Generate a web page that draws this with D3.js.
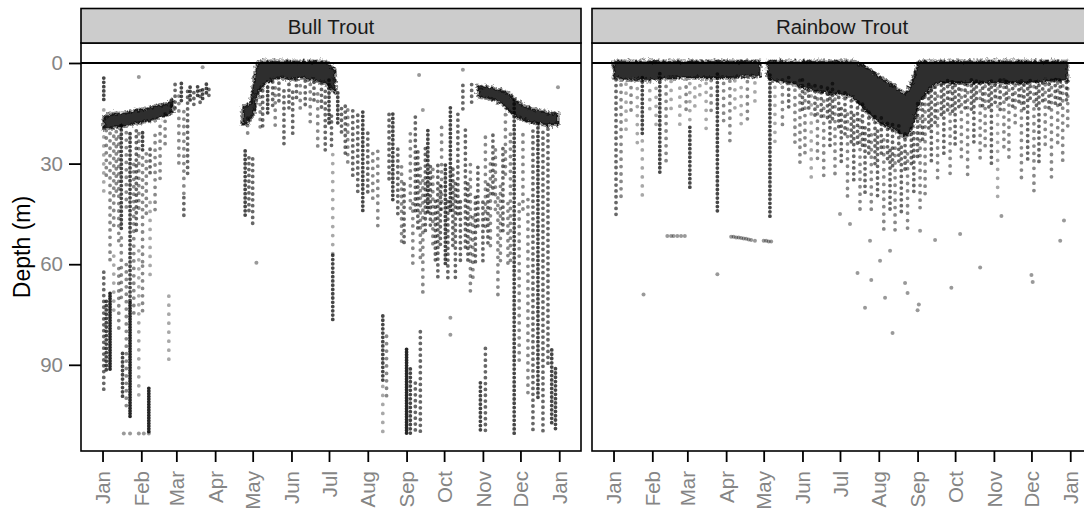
<!DOCTYPE html>
<html><head><meta charset="utf-8">
<script src="https://cdn.jsdelivr.net/npm/d3@7"></script>
<style>
body{margin:0;background:#fff}
svg{display:block}
text{font-family:"Liberation Sans",Arial,Helvetica,sans-serif}
</style>
</head><body>
<svg id="chart" width="1084" height="508"></svg>
<script>
// ---------------- DATA ----------------
const species = ["Bull Trout", "Rainbow Trout"];
const monthLabels = ["Jan","Feb","Mar","Apr","May","Jun","Jul","Aug","Sep","Oct","Nov","Dec","Jan"];
const depthTicks = [0, 30, 60, 90];

// dense detection bands: [dayOfYear, topDepth, bottomDepth] (null = no detections)
const bullBand = [
  [1,16,19.5],[5,15.5,19.5],[10,15,19.2],[16,15,19],[22,14.5,18.5],[28,14,18],[34,13.6,17.6],
  [40,13,17],[46,12.5,16.4],[52,12,15.5],[56,11,14.5],[60,null,null],
  [112,13,18.5],[118,12,17],[121,5,15],[124,0,9.5],[128,-0.5,7],[134,-0.5,5.5],[142,-0.5,4.5],
  [150,-0.5,5],[158,-0.5,4.5],[166,-0.5,5],[172,-0.5,5.5],[178,-0.3,6],[183,1,8],[186,2,9],[188,null,null],
  [300,7,10],[306,7,10.5],[312,7.5,11],[318,8,12],[324,9,14],[330,11,16],
  [336,12.5,17],[342,13.5,17.6],[348,14,18],[354,14.5,18.5],[360,15,18.5],[364,15,18.5]
];
// vertical runs of detections: [dayOfYear, topDepth, bottomDepth, density 1-5]
const bullRuns = [
  [1,4.5,12,4],[1,12,40,1],[1,62,99,3],[3,20,35,2],[3,70,92,4],[6,20,60,2],[6,68,92,5],
  [9,20,50,2],[9,55,75,1],[11,20,40,2],[13,20,55,2],[13,60,80,2],[15,18,50,4],[15,50,70,2],[16,86,100,4],
  [19,20,45,2],[19,60,103,2],[22,20,71,4],[22,71,106,5],[25,30,75,2],[27,20,50,3],[29,20,45,2],[29,55,100,1],
  [32,20,27,4],[32,27,60,2],[32,60,75,2],[35,25,45,2],[37,97,110.5,5],[38,24,33,3],[38,40,65,1],
  [42,20,45,2],[46,18,35,2],[50,15,25,2],[53,68,90,1],[55,10,15,3],[58,6,14,3],[61,8,30,2],[63,6,12,4],
  [65,14,39,2],[65,39,46,3],[68,8,34,3],[70,6,12,4],[73,8,14,3],[76,6,10,4],[78,7,12,3],[80,7,11,4],[83,6,10,4],[85,7,11,3],
  [114,26,46,4],[117,27,44,3],[120,28,48,3],[116,16,22,2],
  [126,6,20,2],[128,8,20,3],[132,6,16,4],[136,5,14,3],[138,6,20,2],[141,5,12,3],[145,8,25,3],[149,5,15,3],
  [152,8,22,3],[155,5,12,3],[158,5,15,2],[162,5,14,3],[166,6,18,2],[169,5,12,3],
  [172,8,25,2],[175,5,14,3],[178,8,27,3],[181,4,18,4],[183,15,25,3],[184,25,57,1],[184,57,77,4],
  [188,8,18,4],[191,12,22,3],[194,12,28,3],[196,13,30,2],[200,13,35,3],[204,15,40,3],[208,14,45,4],[212,20,40,3],[216,25,42,2],
  [220,25,50,2],[224,75,95,4],[224,95,110.5,1],[227,80,100,2],[229,15,35,3],[232,15,41,4],[236,25,45,3],[239,30,55,2],
  [241,35,55,3],[243,85,110.5,5],[246,20,45,2],[246,90,110.5,4],[248,40,60,2],[250,15,45,3],[250,95,110.5,3],
  [252,25,50,3],[254,30,60,2],[254,80,110.5,3],[256,35,70,2],[258,25,50,3],[260,20,45,4],[262,30,50,3],
  [264,30,55,2],[266,40,60,3],[268,30,65,3],[270,35,55,3],[271,18,45,2],[274,30,60,4],[276,40,65,3],
  [278,13,45,4],[280,30,55,3],[282,35,65,3],[284,15,45,3],[286,40,60,3],[288,6,14,3],[290,20,55,3],
  [292,35,60,3],[294,30,70,2],[295,5,12,3],[296,45,65,2],[298,40,60,3],[300,30,50,3],[302,95,110.5,4],
  [304,40,60,3],[306,20,50,2],[306,85,110.5,3],[308,35,55,3],[310,30,55,2],[312,20,40,3],[314,25,45,2],
  [316,40,70,2],[318,35,60,2],[320,25,50,3],[322,15,35,2],[324,40,60,2],[326,20,60,2],
  [329,10,110.5,4],[333,40,90,2],[336,20,45,2],[340,40,100,2],[344,20,110.5,3],[348,18,100,4],
  [352,20,110.5,3],[356,18,90,3],[359,85,108,4],[362,90,110,4]
];
// isolated detections: [dayOfYear, depth]
const bullPoints = [
  [123,59.6],[278,76],[278,81],[29,4.2],[80,1.3],[253,3.6],[364,7.2],[256,14],[288,2],
  [17,110.5],[22,110.5],[29,110.5],[33,110.5],[37,110.5]
];

const rainbowBand = [
  [0,-0.5,4.5],[15,-0.5,5],[29,-0.5,5],[50,-0.5,4.5],[69,-0.5,4.5],[90,-0.5,4.5],[105,-0.5,4],[117,-0.5,4],
  [119,null,null],
  [123,-0.5,4],[125,-0.5,5],[141,-0.5,6],[157,-0.5,8],[173,-0.5,9],[189,-0.5,10],[201,1,14],
  [213,4,18],[225,7,20],[233,9,22],[238,6,20],[245,-0.5,12],[253,-0.5,8],[261,-0.5,6],[280,-0.5,6],
  [293,-0.5,6],[310,-0.5,6],[324,-0.5,6],[345,-0.5,5.5],[363,-0.5,5]
];
const rainbowRuns = [
  [2,5,46,3],[6,5,40,2],[10,5,20,1],[14,5,15,2],[19,5,25,1],[23,4,22,4],[23,22,40,1],[29,5,15,1],
  [34,5,20,1],[37,3,33,4],[42,5,30,2],[46,5,15,1],[53,5,20,1],[58,5,15,2],[61,5,18,1],[61,18,38,4],
  [65,5,15,1],[69,5,12,1],[74,5,20,1],[78,5,15,2],[83,3,45,4],[88,5,18,2],[93,5,25,2],[97,5,15,1],
  [102,5,20,1],[107,5,18,2],[113,5,12,1],[125,3,46,4],[129,5,25,1],[135,5,20,2],
  [140,4,14,3],[145,5,25,2],[149,5,30,2],[151,5,14,3],[153,8,28,2],[156,6,14,3],[158,5,35,1],[161,6,16,3],
  [163,8,30,2],[166,6,16,3],[168,10,35,2],[171,6,18,3],[173,8,25,3],
  [175,6,18,3],[177,10,35,2],[180,8,20,3],[182,12,30,3],[185,8,22,3],[187,15,40,2],[190,10,24,3],[192,15,35,3],
  [195,10,25,3],[197,15,45,2],[199,12,26,3],[201,18,40,3],[204,14,28,3],[206,20,45,2],[209,15,30,3],
  [211,20,40,3],[214,15,28,3],[216,22,50,2],[219,18,30,3],[221,25,45,3],[223,18,32,3],[225,25,50,2],
  [228,18,30,3],[230,25,45,3],[233,20,32,3],[235,25,50,2],[238,18,30,3],[240,20,40,3],[243,12,28,3],
  [245,15,45,2],[247,10,24,3],[249,10,40,2],[252,8,20,3],[254,8,30,3],[257,6,18,3],[259,8,35,2],
  [262,5,16,3],[264,5,28,3],[267,5,14,3],[269,5,35,2],[271,5,15,3],[273,5,25,3],
  [276,5,14,3],[278,5,30,2],[281,5,14,3],[283,5,35,2],[286,5,14,3],[288,5,25,3],[290,5,12,3],[293,5,30,2],
  [295,5,14,3],[297,5,25,2],[300,5,14,3],[302,5,30,3],[305,5,12,3],[307,5,40,1],[309,5,14,3],
  [312,5,25,2],[314,5,12,3],[316,5,30,2],[319,5,14,3],[321,5,20,2],[324,5,12,3],[326,5,35,2],[328,5,14,3],
  [331,5,30,3],[333,5,12,3],[336,5,40,2],[338,5,14,3],[340,5,30,3],[343,5,12,3],
  [345,5,25,2],[348,5,14,3],[350,5,35,2],[353,5,12,3],[355,5,25,2],[357,5,14,3],[359,5,30,2],[362,5,12,3],[363,5,20,2]
];
const rainbowPoints = [
  [24,69],[83,63],[195,62.6],[201,73],[206,64.7],[213,59],[217,70],[223,80.5],[233,65.6],[235,68.6],
  [243,73.7],[244,72],[257,52.8],[270,67],[293,61],[310,45.6],[334,63.2],[335,65.3],[189,48],[181,45],
  [205,53],[221,56],[245,50],[277,51],[357,53],[360,47],
  [43,51.6],[46,51.6],[48,51.6],[51,51.6],[54,51.6],[57,51.6],
  [94,51.8],[96,51.8],[98,52],[100,52],[102,52.2],[104,52.3],[106,52.4],[108,52.6],[110,52.8],[113,53],
  [120,53],[122,53],[124,53.2],[126,53.2]
];

// ---------------- CHART ----------------
const svg = d3.select("#chart");
const panelTop = 43, panelBottom = 451, panelW = 500, stripTop = 8.5;
const panelLefts = [81, 592];
const base = new Date(2021, 0, 1);
const toDate = d => new Date(base.getTime() + d * 864e5);
const monthDates = monthLabels.map((m, i) => new Date(2021, i, 1));

const y = d3.scaleLinear().domain([-5.96, 115.7]).range([panelTop, panelBottom]);
const gap = d3.scaleLinear().domain([1, 5]).range([9, 2.7]);
const op = d3.scaleLinear().domain([1, 5]).range([0.34, 0.85]);

// ragged-edge filter for dense bands
const defs = svg.append("defs");
const f = defs.append("filter").attr("id", "rough").attr("x", "-5%").attr("y", "-20%").attr("width", "110%").attr("height", "140%");
f.append("feTurbulence").attr("type", "fractalNoise").attr("baseFrequency", 0.35).attr("numOctaves", 2).attr("seed", 3).attr("result", "n");
f.append("feDisplacementMap").attr("in", "SourceGraphic").attr("in2", "n").attr("scale", 6)
  .attr("xChannelSelector", "R").attr("yChannelSelector", "G");

const data = [
  {band: bullBand, runs: bullRuns, pts: bullPoints},
  {band: rainbowBand, runs: rainbowRuns, pts: rainbowPoints}
];

species.forEach((name, i) => {
  const x0 = panelLefts[i];
  const x = d3.scaleTime().domain([toDate(-17.2), toDate(382.4)]).range([x0, x0 + panelW]);
  const D = data[i];

  defs.append("clipPath").attr("id", "clip" + i).append("rect")
    .attr("x", x0).attr("y", panelTop).attr("width", panelW).attr("height", panelBottom - panelTop);
  const g = svg.append("g").attr("clip-path", `url(#clip${i})`);

  // runs of detections
  g.selectAll("line.run").data(D.runs).join("line").attr("class", "run")
    .attr("x1", d => x(toDate(d[0]))).attr("x2", d => x(toDate(d[0])))
    .attr("y1", d => y(d[1])).attr("y2", d => y(d[2]))
    .attr("stroke", "#000").attr("stroke-width", 3.8).attr("stroke-linecap", "round")
    .attr("stroke-dasharray", d => `0 ${gap(d[3])}`)
    .attr("stroke-dashoffset", (d, k) => (k * 2.3) % gap(d[3]))
    .attr("stroke-opacity", d => op(d[3]));

  // dense bands
  const area = d3.area().defined(d => d[1] != null)
    .x(d => x(toDate(d[0]))).y0(d => y(d[1])).y1(d => y(d[2]))
    .curve(d3.curveMonotoneX);
  g.append("path").datum(D.band).attr("d", area)
    .attr("fill", "#000").attr("fill-opacity", 0.82)
    .attr("stroke", "#000").attr("stroke-opacity", 0.45).attr("stroke-width", 4)
    .attr("stroke-dasharray", "0 3").attr("stroke-linecap", "round")
    .attr("filter", "url(#rough)");

  // isolated points
  g.selectAll("circle").data(D.pts).join("circle")
    .attr("cx", d => x(toDate(d[0]))).attr("cy", d => y(d[1])).attr("r", 2)
    .attr("fill", "#000").attr("fill-opacity", 0.4);

  // zero line
  g.append("line").attr("x1", x0).attr("x2", x0 + panelW).attr("y1", y(0)).attr("y2", y(0))
    .attr("stroke", "#000").attr("stroke-width", 2);

  // panel border
  svg.append("rect").attr("x", x0).attr("y", panelTop).attr("width", panelW).attr("height", panelBottom - panelTop)
    .attr("fill", "none").attr("stroke", "#000").attr("stroke-width", 1.6);

  // strip
  svg.append("rect").attr("x", x0).attr("y", stripTop).attr("width", panelW).attr("height", panelTop - stripTop)
    .attr("fill", "#cccccc").attr("stroke", "#000").attr("stroke-width", 1.6);
  svg.append("text").attr("x", x0 + panelW / 2).attr("y", 33.5).attr("text-anchor", "middle")
    .attr("font-size", 20.5).attr("fill", "#1a1a1a").text(name);

  // x axis
  const ax = svg.append("g").attr("transform", `translate(0,${panelBottom})`)
    .call(d3.axisBottom(x).tickValues(monthDates).tickFormat((d, k) => monthLabels[k]).tickSize(11).tickSizeOuter(0));
  ax.select(".domain").remove();
  ax.selectAll(".tick line").attr("stroke", "#000").attr("stroke-width", 1.8);
  ax.selectAll(".tick text").attr("transform", "rotate(-90)").attr("text-anchor", "end")
    .attr("x", -20).attr("y", 0).attr("dy", "0.35em")
    .attr("font-size", 20.5).attr("fill", "#858585").attr("font-family", null);

  if (i === 0) {
    const ay = svg.append("g").attr("transform", `translate(${x0},0)`)
      .call(d3.axisLeft(y).tickValues(depthTicks).tickSize(12).tickPadding(6).tickSizeOuter(0));
    ay.select(".domain").remove();
    ay.selectAll(".tick line").attr("stroke", "#000").attr("stroke-width", 1.8);
    ay.selectAll(".tick text").attr("font-size", 20.5).attr("fill", "#858585").attr("font-family", null);
  }
});

svg.append("text").attr("transform", `translate(30,247) rotate(-90)`).attr("text-anchor", "middle")
  .attr("font-size", 23).attr("fill", "#000").text("Depth (m)");
</script>
</body></html>
